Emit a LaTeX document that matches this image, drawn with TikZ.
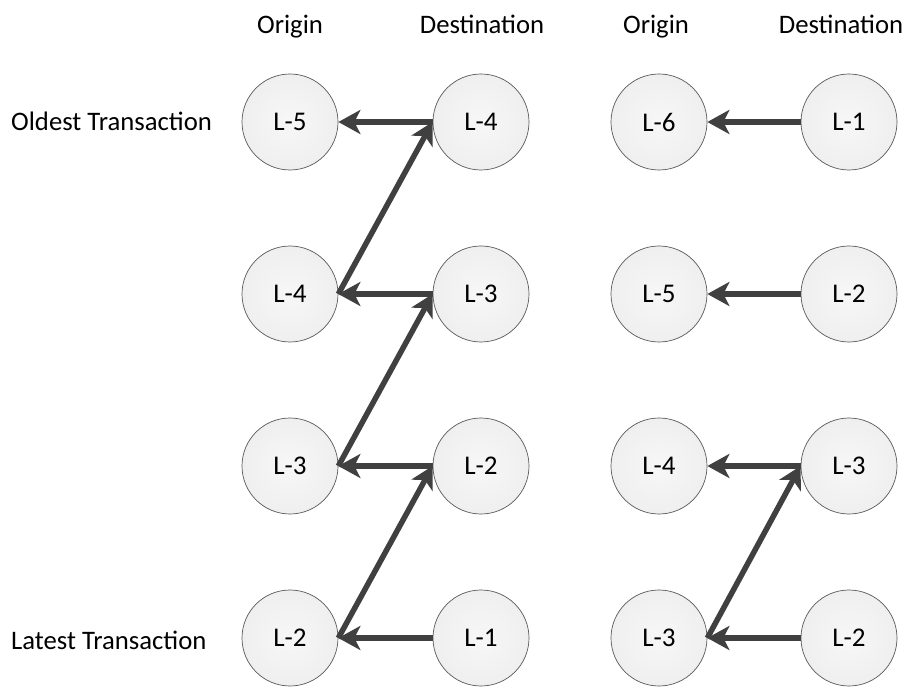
\documentclass[tikz,border=0pt]{standalone}
\usepackage{fontspec}
\setmainfont{Carlito}
\usetikzlibrary{arrows.meta}
\definecolor{linkgray}{HTML}{404040}
\definecolor{ringgray}{HTML}{595959}
\definecolor{ballfill}{HTML}{EFEFEF}
\tikzset{
  ledger/.style={circle, draw=ringgray, line width=0.7pt, inner color=white!50!ballfill, outer color=ballfill,
    minimum size=96pt, inner sep=0pt, font=\fontsize{27}{32}\selectfont},
  hdr/.style={font=\fontsize{26.7}{32}\selectfont, inner sep=0pt, anchor=base},
  link/.style={draw=linkgray, line width=5.5pt, -{Stealth[length=22pt,width=24pt,inset=6pt]}}
}
\begin{document}
\begin{tikzpicture}[x=1pt,y=-1pt]
\useasboundingbox (0,0) rectangle (907,692);
% column headers, set on a common baseline
\node[hdr] (h1) at (290,34) {Origin};
\node[hdr] (h2) at (482,34) {Destination};
\node[hdr] (h3) at (656,34) {Origin};
\node[hdr] (h4) at (841,34) {Destination};
% row labels
\node[hdr, anchor=base west] (oldest) at (11,131) {Oldest Transaction};
\node[hdr, anchor=base west] (latest) at (11,649) {Latest Transaction};
% left chain
\node[ledger] (a1) at (290,122) {L-5};
\node[ledger] (b1) at (481,122) {L-4};
\node[ledger] (a2) at (290,294) {L-4};
\node[ledger] (b2) at (481,294) {L-3};
\node[ledger] (a3) at (290,466) {L-3};
\node[ledger] (b3) at (481,466) {L-2};
\node[ledger] (a4) at (290,638) {L-2};
\node[ledger] (b4) at (481,638) {L-1};
% right chain
\node[ledger] (c1) at (659,122) {L-6};
\node[ledger] (d1) at (849,122) {L-1};
\node[ledger] (c2) at (659,294) {L-5};
\node[ledger] (d2) at (849,294) {L-2};
\node[ledger] (c3) at (659,466) {L-4};
\node[ledger] (d3) at (849,466) {L-3};
\node[ledger] (c4) at (659,638) {L-3};
\node[ledger] (d4) at (849,638) {L-2};
% transfers
\foreach \r in {1,2,3,4}{
  \draw[link] (b\r.west) -- (a\r.east);
  \draw[link] (d\r.west) -- (c\r.east);
}
\draw[link] (a2.east) -- (b1.west);
\draw[link] (a3.east) -- (b2.west);
\draw[link] (a4.east) -- (b3.west);
\draw[link] (c4.east) -- (d3.west);
\end{tikzpicture}
\end{document}
